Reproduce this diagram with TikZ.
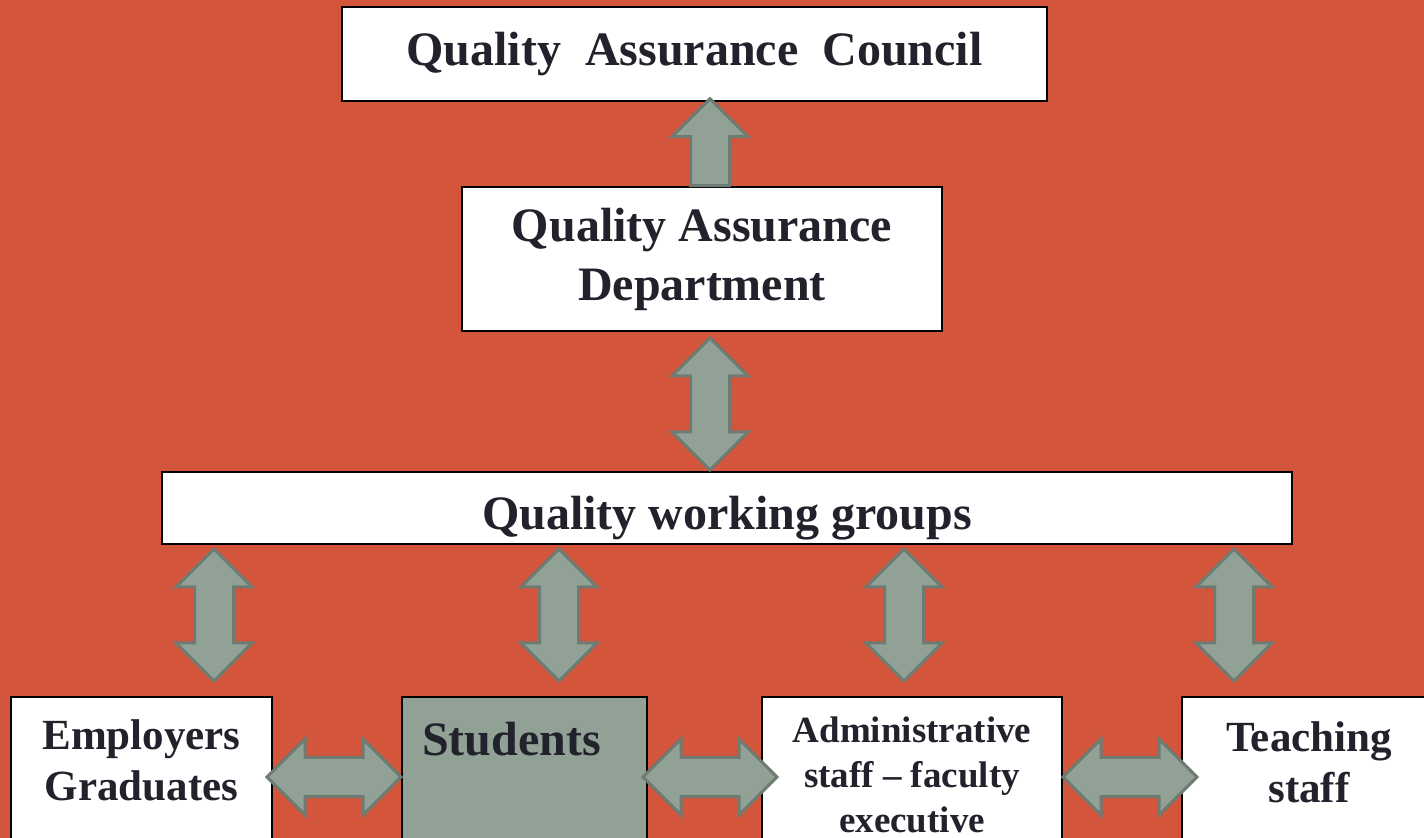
\documentclass[tikz,border=0pt]{standalone}
\usepackage{fontspec}
\setmainfont{Liberation Serif}
\usetikzlibrary{shapes.arrows,positioning}

\definecolor{bgred}{HTML}{D2553C}
\definecolor{arrfill}{HTML}{92A195}
\definecolor{arrline}{HTML}{6E7B72}
\definecolor{inkdark}{HTML}{22222C}

\begin{document}
\begin{tikzpicture}[x=0.5pt,y=-0.5pt,
  box/.style={draw=black,line width=1.2pt,fill=white,anchor=north west,inner sep=0pt,outer sep=0pt,
    text=inkdark,align=center,font=\bfseries\fontsize{24pt}{29.5pt}\selectfont},
  lbl/.style={inner sep=0pt,outer sep=0pt,text=inkdark,align=center},
  uparr/.style={single arrow,draw=arrline,fill=arrfill,line width=1.5pt,single arrow head extend=9.25pt,
    single arrow tip angle=90,inner xsep=9pt,inner ysep=0pt,minimum height=43.5pt,shape border rotate=90},
  vdbl/.style={double arrow,draw=arrline,fill=arrfill,line width=1.5pt,double arrow head extend=9.25pt,
    double arrow tip angle=90,inner xsep=9pt,inner ysep=0pt,minimum height=66pt,shape border rotate=90},
  hdbl/.style={vdbl,shape border rotate=0,inner xsep=0pt,inner ysep=9pt,minimum height=67pt}]
\fill[bgred] (0,0) rectangle (1424,838);
\useasboundingbox (0,0) rectangle (1424,838);

% upper levels
\node[box,minimum width=352.5pt,minimum height=47pt] (qac) at (342,7) {Quality\ \ Assurance\ \ Council};
\node[box,minimum width=240pt,minimum height=72pt] (qad) at (462,187) {Quality Assurance\\Department};
\node[box,minimum width=565pt,minimum height=36pt,text height=22pt,text depth=0pt] (qwg) at (162,472) {Quality working groups};

% bottom row
\node[box,minimum width=130.5pt,minimum height=92pt] (emp) at (11,697) {};
\node[box,fill=arrfill,minimum width=122.5pt,minimum height=92pt] (stu) at (402,697) {};
\node[box,minimum width=150pt,minimum height=92pt] (adm) at (762,697) {};
\node[box,minimum width=127pt,minimum height=92pt] (tch) at (1182,697) {};

\node[lbl,font=\bfseries\fontsize{21.5pt}{25.5pt}\selectfont,below=11.5pt of emp.north] (empt) {Employers\\Graduates};
\node[lbl,font=\bfseries\fontsize{24pt}{29pt}\selectfont,anchor=north west,below right=12.5pt and 10pt of stu.north west] (stut) {Students};
\node[lbl,font=\bfseries\fontsize{18.5pt}{22.5pt}\selectfont,below=10pt of adm.north] (admt) {Administrative\\staff -- faculty\\executive};
\node[lbl,font=\bfseries\fontsize{21.5pt}{25.5pt}\selectfont,below=12.5pt of tch.north] (tcht) {Teaching\\staff};

% block arrows
\node[uparr] (a0) at (710,152) {};
\node[vdbl] (a1) at (710,404) {};
\node[vdbl] (a2) at (214,615) {};
\node[vdbl] (a3) at (559,615) {};
\node[vdbl] (a4) at (904,615) {};
\node[vdbl] (a5) at (1234,615) {};
\node[hdbl] (h1) at (334,777) {};
\node[hdbl] (h2) at (710,777) {};
\node[hdbl] (h3) at (1130,777) {};
\end{tikzpicture}
\end{document}
